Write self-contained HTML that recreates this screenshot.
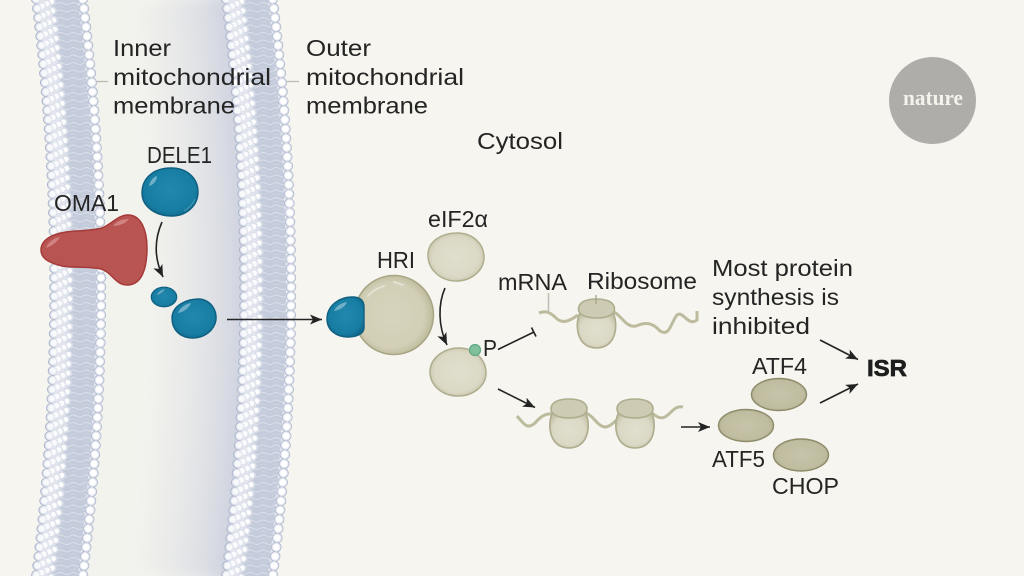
<!DOCTYPE html>
<html lang="en">
<head>
<meta charset="utf-8">
<title>Mitochondrial stress signalling to the ISR</title>
<style>
html,body{margin:0;padding:0;background:#f6f5ef;width:1024px;height:576px;overflow:hidden}
svg{display:block}
text{font-family:"Liberation Sans",sans-serif;font-size:23.500px;fill:#242424}
</style>
</head>
<body>
<svg xmlns="http://www.w3.org/2000/svg" width="1024" height="576" viewBox="0 0 1024 576">
<defs>
<path id="c" fill="none" d="M58,-10 C84,190 84,386 58,586"/>
<clipPath id="gap"><path d="M58,-10 C84,190 84,386 58,586 L248,586 C274,386 274,190 248,-10Z"/></clipPath>
<filter id="bl" filterUnits="userSpaceOnUse" x="-100" y="-60" width="600" height="700"><feGaussianBlur stdDeviation="8"/></filter>
<pattern id="wv" patternUnits="userSpaceOnUse" width="13" height="7.500">
<rect width="13" height="7.500" fill="#c4ccdb"/>
<path d="M0,3.500 q3.250,-2 6.500,0 t6.500,0" fill="none" stroke="#dce0ea" stroke-width=".9"/>
<path d="M0,7.500 q3.250,-2 6.500,0 t6.500,0" fill="none" stroke="#d3d8e5" stroke-width=".5"/>
</pattern>
<radialGradient id="blue" cx=".5" cy=".45" r=".6"><stop offset="0" stop-color="#2388ad"/><stop offset=".75" stop-color="#187da3"/><stop offset="1" stop-color="#0f6688"/></radialGradient>
<radialGradient id="beige" cx=".5" cy=".5" r=".55"><stop offset="0" stop-color="#e0dfcd"/><stop offset=".75" stop-color="#dbd9c6"/><stop offset="1" stop-color="#c6c4a9"/></radialGradient>
<radialGradient id="hri" cx=".47" cy=".5" r=".55"><stop offset="0" stop-color="#d7d4bd"/><stop offset=".75" stop-color="#d2cfb6"/><stop offset="1" stop-color="#b9b696"/></radialGradient>
<radialGradient id="atf" cx=".5" cy=".5" r=".58"><stop offset="0" stop-color="#c7c4aa"/><stop offset=".75" stop-color="#bfbca0"/><stop offset="1" stop-color="#a6a382"/></radialGradient>
<marker id="ah" markerUnits="userSpaceOnUse" markerWidth="15" markerHeight="12" refX="12" refY="5" orient="auto"><path d="M0,0 L12,5 L0,10 L3,5Z" fill="#232323"/></marker>
<g id="ribo">
<path d="M-16,-4 C-22,6 -21,32 0,32 C21,32 22,6 16,-4Z" fill="url(#beige)" stroke="#aead8d" stroke-width="1.600"/>
<path d="M-18,-7 C-18,-14 -10,-17 0,-17 C10,-17 18,-14 18,-7 C18,-1 10,2 0,2 C-10,2 -18,-1 -18,-7Z" fill="#cdcbb3" stroke="#aead8d" stroke-width="1.600"/>
</g>
</defs>

<rect width="1024" height="576" fill="#f6f5ef"/>

<!-- intermembrane space -->
<g clip-path="url(#gap)">
<rect width="300" height="576" fill="#f3f3ee"/>
<g filter="url(#bl)" fill="none">
<use href="#c" transform="translate(190)" stroke="#eeefeb" stroke-width="220"/>
<use href="#c" transform="translate(190)" stroke="#e9eae9" stroke-width="180"/>
<use href="#c" transform="translate(190)" stroke="#e4e5e7" stroke-width="150"/>
<use href="#c" transform="translate(190)" stroke="#dee0e5" stroke-width="120"/>
<use href="#c" transform="translate(190)" stroke="#d7dae2" stroke-width="90"/>
<use href="#c" transform="translate(190)" stroke="#ced2df" stroke-width="60"/>
</g>
</g>

<!-- inner membrane -->
<g id="mem">
<use href="#c" stroke="#e8eaf1" stroke-width="50"/>
<use href="#c" transform="translate(-23.500)" stroke="#aab4cb" stroke-width="9.500" stroke-linecap="round" stroke-dasharray="0.01 9.300"/>
<use href="#c" transform="translate(23.500)" stroke="#aab4cb" stroke-width="10.500" stroke-linecap="round" stroke-dasharray="0.01 9.300"/>
<use href="#c" transform="translate(5)" stroke="url(#wv)" stroke-width="27"/>
<use href="#c" transform="translate(-8)" stroke="#d8dde8" stroke-width="8.500" stroke-linecap="round" stroke-dasharray="0.01 9.300" stroke-dashoffset="7"/>
<use href="#c" transform="translate(-8)" stroke="#ffffff" stroke-width="5" stroke-linecap="round" stroke-dasharray="0.01 9.300" stroke-dashoffset="7"/>
<use href="#c" transform="translate(-13)" stroke="#dde1eb" stroke-width="8.500" stroke-linecap="round" stroke-dasharray="0.01 9.300" stroke-dashoffset="4.700"/>
<use href="#c" transform="translate(-13)" stroke="#fbfbfd" stroke-width="5.500" stroke-linecap="round" stroke-dasharray="0.01 9.300" stroke-dashoffset="4.700"/>
<use href="#c" transform="translate(-18)" stroke="#dfe3ec" stroke-width="8.500" stroke-linecap="round" stroke-dasharray="0.01 9.300" stroke-dashoffset="2.300"/>
<use href="#c" transform="translate(-18)" stroke="#fbfbfd" stroke-width="5.500" stroke-linecap="round" stroke-dasharray="0.01 9.300" stroke-dashoffset="2.300"/>
<use href="#c" transform="translate(-23)" stroke="#e2e5ee" stroke-width="8.500" stroke-linecap="round" stroke-dasharray="0.01 9.300"/>
<use href="#c" transform="translate(-23)" stroke="#f8f9fb" stroke-width="6" stroke-linecap="round" stroke-dasharray="0.01 9.300"/>
<use href="#c" transform="translate(23.500)" stroke="#e4e7ef" stroke-width="9" stroke-linecap="round" stroke-dasharray="0.01 9.300"/>
<use href="#c" transform="translate(23.500)" stroke="#ffffff" stroke-width="6.500" stroke-linecap="round" stroke-dasharray="0.01 9.300"/>
</g>
<!-- outer membrane -->
<use href="#mem" transform="translate(190)"/>

<!-- leader lines -->
<g stroke="#bdbcb0" stroke-width="1.300" fill="none">
<path d="M97,81.500H108"/><path d="M287,81.500H299"/>
<path d="M548.500,293V312" stroke-width="1.500"/>
</g>

<!-- DELE1 -->
<path d="M142,193 C142,176 156,168 171,168 C187,168 198,178 198,192 C198,206 186,216 172,216 C156,216 142,207 142,193Z" fill="url(#blue)" stroke="#0f5f80" stroke-width="1.400"/>
<path d="M149,186 C150,181 153,177 157,176 C157,181 153,185 149,186Z" fill="#6fb0c8"/>
<path d="M184,211 C189,208 193,204 195,199" fill="none" stroke="#3f97b6" stroke-width="1.200"/>

<!-- OMA1 -->
<path d="M41,250 C41,240 52,234 66,232 C80,230 92,231 102,228 C112,224 118,215 128,215 C141,215 147,230 147,248 C147,268 142,285 127,285 C115,285 112,272 101,269 C88,266 72,268 62,266 C50,263 41,259 41,250Z" fill="#b85452" stroke="#a53a38" stroke-width="1.500"/>
<path d="M46,248 C48,242 54,238 60,237 C57,242 52,246 46,248Z" fill="#d08380"/>
<path d="M113,226 C116,222 121,219 129,219 C126,223 120,226 113,226Z" fill="#d08380"/>

<!-- small blue fragments -->
<ellipse cx="164" cy="297" rx="12.700" ry="9.800" fill="url(#blue)" stroke="#0f5f80" stroke-width="1.200"/>
<path d="M157,295 C158,292 161,290 165,289 C163,292 160,294 157,295Z" fill="#6cabc4"/>
<path d="M172,318 C172,306 186,299 199,299 C211,300 217,310 216,320 C214,331 204,338 193,338 C180,338 172,330 172,318Z" fill="url(#blue)" stroke="#0f5f80" stroke-width="1.400"/>
<path d="M178,313 C180,308 185,304 191,303 C189,308 184,312 178,313Z" fill="#6fb0c8"/>

<!-- HRI -->
<circle cx="394" cy="315" r="39.500" fill="url(#hri)" stroke="#a8a585" stroke-width="1.500"/>
<path d="M368,296 C372,291 377,288 384,286" fill="none" stroke="#e2e1d3" stroke-width="2" stroke-linecap="round"/>
<path d="M394,282 L403,285" fill="none" stroke="#e2e1d3" stroke-width="2" stroke-linecap="round"/>
<path d="M327,319 C327,305 340,297 352,297 C360,297 364,300 364,307 C364,314 364,322 364,328 C364,334 356,337 348,337 C336,337 327,330 327,319Z" fill="url(#blue)" stroke="#0f5f80" stroke-width="1.400"/>
<path d="M334,311 C336,306 341,303 347,302 C345,307 340,310 334,311Z" fill="#6fb0c8"/>

<!-- eIF2a top and bottom -->
<path d="M428,255 C428,241 442,233 457,233 C473,233 484,244 484,257 C484,271 471,281 456,281 C441,281 428,270 428,255Z" fill="url(#beige)" stroke="#aead8d" stroke-width="1.500"/>
<path d="M430,372 C430,358 444,348 459,348 C475,348 486,360 486,373 C486,386 473,396 458,396 C442,396 430,385 430,372Z" fill="url(#beige)" stroke="#aead8d" stroke-width="1.500"/>
<circle cx="475" cy="350" r="5.500" fill="#80c09b" stroke="#5ea883" stroke-width="1.200"/>

<!-- mRNA wave 1 -->
<path d="M539,313 C546,310 551,313 556,318 C563,325 571,320 578,315" fill="none" stroke="#bdbb9d" stroke-width="3"/>
<path d="M614,312 C622,316 626,328 636,326 C645,322 652,322 660,331 C670,337 671,322 677,315 C683,310 688,327 697,320 L697,311" fill="none" stroke="#bdbb9d" stroke-width="3"/>
<use href="#ribo" transform="translate(596.500,316)"/>
<path d="M596,295V304" stroke="#a5a38a" stroke-width="1.300" fill="none"/>

<!-- mRNA wave 2 -->
<path d="M517,416 C524,424 527,430 535,423 C541,416 546,413 553,414" fill="none" stroke="#bdbb9d" stroke-width="3"/>
<path d="M586,413 C594,416 597,426 605,427 C610,427 614,422 618,419" fill="none" stroke="#bdbb9d" stroke-width="3"/>
<path d="M652,413 C660,420 664,419 670,413 C675,408 678,406 683,407" fill="none" stroke="#bdbb9d" stroke-width="3"/>
<use href="#ribo" transform="translate(569,416)"/>
<use href="#ribo" transform="translate(635,416)"/>

<!-- transcription factors -->
<ellipse cx="779" cy="394.500" rx="27.500" ry="16" fill="url(#atf)" stroke="#8d8b6a" stroke-width="1.400"/>
<ellipse cx="746" cy="425.500" rx="27.500" ry="16" fill="url(#atf)" stroke="#8d8b6a" stroke-width="1.400"/>
<ellipse cx="801" cy="455" rx="27.500" ry="16" fill="url(#atf)" stroke="#8d8b6a" stroke-width="1.400"/>

<!-- arrows -->
<g fill="none" stroke="#232323" stroke-width="1.600">
<path d="M162,222 C155,238 153,256 163,277" marker-end="url(#ah)"/>
<path d="M227,319.500H322" marker-end="url(#ah)"/>
<path d="M445,288 C438,304 438,326 447,345" marker-end="url(#ah)"/>
<path d="M498,349.500L534,332"/>
<path d="M531.500,327.500L536,336.500"/>
<path d="M498,389L535,407.500" marker-end="url(#ah)"/>
<path d="M681,427H710" marker-end="url(#ah)"/>
<path d="M820,340L858,359.500" marker-end="url(#ah)"/>
<path d="M820,403L858,384" marker-end="url(#ah)"/>
</g>

<!-- labels -->
<text x="113" y="56" textLength="58" lengthAdjust="spacingAndGlyphs">Inner</text>
<text x="113" y="85" textLength="158" lengthAdjust="spacingAndGlyphs">mitochondrial</text>
<text x="113" y="113.500" textLength="122" lengthAdjust="spacingAndGlyphs">membrane</text>
<text x="306" y="56" textLength="65" lengthAdjust="spacingAndGlyphs">Outer</text>
<text x="306" y="85" textLength="158" lengthAdjust="spacingAndGlyphs">mitochondrial</text>
<text x="306" y="113.500" textLength="122" lengthAdjust="spacingAndGlyphs">membrane</text>
<text x="477" y="149" textLength="86" lengthAdjust="spacingAndGlyphs">Cytosol</text>
<text x="147" y="163" textLength="65" lengthAdjust="spacingAndGlyphs">DELE1</text>
<text x="54" y="211" textLength="65" lengthAdjust="spacingAndGlyphs">OMA1</text>
<text x="377" y="268" textLength="38" lengthAdjust="spacingAndGlyphs">HRI</text>
<text x="428" y="227" textLength="60" lengthAdjust="spacingAndGlyphs">eIF2α</text>
<text x="483" y="356" textLength="14" lengthAdjust="spacingAndGlyphs">P</text>
<text x="498" y="290" textLength="69" lengthAdjust="spacingAndGlyphs">mRNA</text>
<text x="587" y="289" textLength="110" lengthAdjust="spacingAndGlyphs">Ribosome</text>
<text x="712" y="276" textLength="141" lengthAdjust="spacingAndGlyphs">Most protein</text>
<text x="712" y="305" textLength="127" lengthAdjust="spacingAndGlyphs">synthesis is</text>
<text x="712" y="334" textLength="98" lengthAdjust="spacingAndGlyphs">inhibited</text>
<text x="752" y="374" textLength="55" lengthAdjust="spacingAndGlyphs">ATF4</text>
<text x="712" y="467" textLength="53" lengthAdjust="spacingAndGlyphs">ATF5</text>
<text x="772" y="494" textLength="67" lengthAdjust="spacingAndGlyphs">CHOP</text>
<text x="867" y="376" textLength="40" lengthAdjust="spacingAndGlyphs" style="font-weight:bold;font-size:23px;fill:#1e1e1e;stroke:#1e1e1e;stroke-width:.7px">ISR</text>

<!-- logo -->
<circle cx="932.500" cy="100.500" r="43.500" fill="#aeada9"/>
<text x="903" y="105" textLength="60" lengthAdjust="spacingAndGlyphs" style="font-family:'Liberation Serif',serif;font-size:22px;font-weight:bold;fill:#f4f3ec">nature</text>
</svg>
</body>
</html>
